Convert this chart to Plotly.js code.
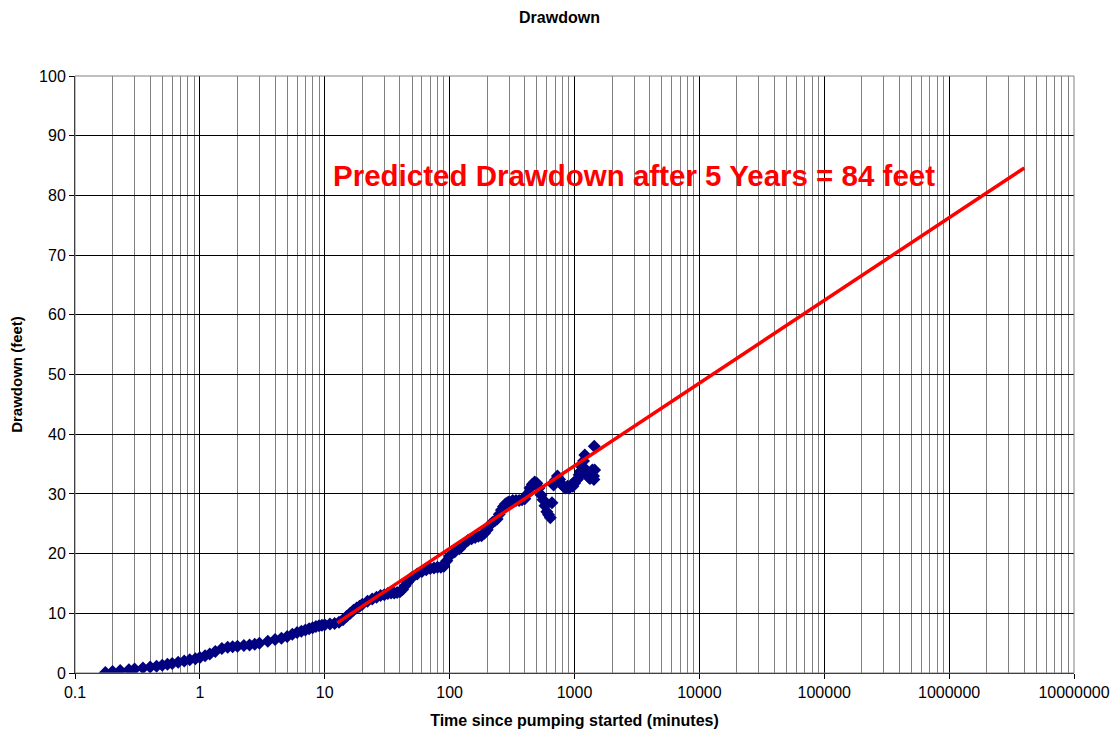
<!DOCTYPE html>
<html>
<head>
<meta charset="utf-8">
<script src="https://cdn.plot.ly/plotly-3.0.1.min.js"></script>
<style>html,body{margin:0;padding:0;background:#fff;}#chart{width:1119px;height:738px;}</style>
</head>
<body>
<div id="chart"></div>
<script>
// Observed drawdown data (time in minutes, drawdown in feet)
const timeMin = [0.175,0.2,0.23,0.27,0.3,0.35,0.4,0.45,0.5,0.55,0.6,0.67,0.75,0.83,0.92,1.0,1.1,1.2,1.33,1.5,1.67,1.83,2.0,2.25,2.5,2.75,3.0,3.5,4.0,4.5,5.0,5.5,6.0,6.5,7.0,7.5,8.0,8.5,9.0,9.5,10,11,12,13,14,15,16,17,18,19,20,22,24,26,28,30,32,34,36,38,40,42,44,46,48,50,55,60,65,70,75,80,85,90,95,100,110,120,130,140,150,160,170,180,190,200,210,220,230,240,250,260,270,280,290,300,320,340,360,380,400,420,440,460,480,500,520,540,560,580,600,620,640,660,680,700,730,760,790,820,850,880,910,940,970,1000,1030,1060,1090,1120,1150,1180,1210,1240,1270,1300,1330,1360,1390,1420,1430,1440,1450];
const drawdownFt = [0.1,0.25,0.4,0.55,0.65,0.85,1.0,1.15,1.3,1.45,1.6,1.8,2.0,2.2,2.4,2.6,2.9,3.2,3.6,4.1,4.3,4.4,4.5,4.6,4.7,4.8,5.0,5.3,5.6,5.8,6.1,6.5,6.8,7.0,7.2,7.4,7.6,7.8,7.9,8.0,8.1,8.2,8.3,8.5,8.9,9.5,10.0,10.5,10.9,11.2,11.5,12.0,12.4,12.7,13.0,13.1,13.3,13.4,13.4,13.5,13.6,14.0,14.6,15.2,15.7,16.0,16.6,17.0,17.3,17.5,17.6,17.7,17.7,17.9,18.8,19.6,20.3,20.8,21.6,22.2,22.5,22.7,22.9,23.0,23.4,24.0,24.8,25.2,25.5,25.8,26.6,27.3,27.9,28.3,28.5,28.7,28.9,28.9,28.9,29.0,29.2,30.0,31.0,31.6,32.0,31.8,31.0,29.8,29.0,28.0,27.0,26.5,26.0,28.5,31.5,32.3,33.0,32.4,31.6,31.2,31.0,31.3,31.0,31.5,31.3,31.8,32.3,32.5,33.2,33.8,34.5,35.5,36.5,34.0,33.2,32.8,32.6,33.4,34.0,33.0,32.4,38.0,34.0];
// Predicted (fitted) trend line end points
const trendTime = [12.6, 4000000];
const trendDrawdown = [8.4, 84.6];
// Axis tick labels
const yTicks = [0,10,20,30,40,50,60,70,80,90,100];
const xTickVals = [0.1,1,10,100,1000,10000,100000,1000000,10000000];
const xTickText = ["0.1","1","10","100","1000","10000","100000","1000000","10000000"];
const annotationText = "Predicted Drawdown after 5 Years = 84 feet";

const FONT = "Liberation Sans, Arial, sans-serif";

const traces = [
  {
    x: timeMin, y: drawdownFt, type: "scatter", mode: "markers",
    marker: {symbol: "diamond", size: 10, color: "#000080", line: {width: 0}},
    hoverinfo: "x+y", showlegend: false
  },
  {
    x: trendTime, y: trendDrawdown, type: "scatter", mode: "lines",
    line: {color: "#ff0000", width: 3.5}, showlegend: false
  }
];

const layout = {
  width: 1119, height: 738,
  paper_bgcolor: "#ffffff", plot_bgcolor: "#ffffff",
  margin: {l: 75, r: 45, t: 76, b: 65, pad: 0},
  font: {family: FONT, size: 16, color: "#000"},
  title: {text: "<b>Drawdown</b>", font: {family: FONT, size: 16, color: "#000"},
          x: 0.5, xanchor: "center", y: 0.977, yanchor: "middle", yref: "container"},
  xaxis: {
    type: "log", range: [-1, 7],
    tickmode: "array", tickvals: xTickVals, ticktext: xTickText,
    showgrid: true, gridcolor: "#000000", gridwidth: 1,
    minor: {dtick: "D1", showgrid: true, gridcolor: "#808080", gridwidth: 1, ticks: ""},
    showline: true, linecolor: "#000", linewidth: 1, mirror: false,
    ticks: "outside", ticklen: 5, tickcolor: "#000",
    tickfont: {family: FONT, size: 16, color: "#000"},
    zeroline: false,
    title: {text: "<b>Time since pumping started (minutes)</b>", font: {family: FONT, size: 16, color: "#000"}, standoff: 14}
  },
  yaxis: {
    range: [0, 100], tickmode: "array", tickvals: yTicks,
    showgrid: true, gridcolor: "#000000", gridwidth: 1,
    showline: true, linecolor: "#000", linewidth: 1,
    ticks: "outside", ticklen: 5, tickcolor: "#000",
    tickfont: {family: FONT, size: 16, color: "#000"},
    zeroline: false,
    title: {text: "<b>Drawdown (feet)</b>", font: {family: FONT, size: 15, color: "#000"}, standoff: 12}
  },
  shapes: [
    {type: "rect", xref: "paper", yref: "paper", x0: 0, x1: 1, y0: 0, y1: 1, line: {color: "#808080", width: 1}, fillcolor: "rgba(0,0,0,0)"}
  ],
  annotations: [
    {text: "<b>" + annotationText + "</b>", xref: "paper", yref: "y", x: 0.56, y: 83.4,
     showarrow: false, xanchor: "center", yanchor: "middle",
     font: {family: FONT, size: 29.5, color: "#ff0000"}}
  ]
};

Plotly.newPlot("chart", traces, layout, {displayModeBar: false, staticPlot: true});
</script>
</body>
</html>
